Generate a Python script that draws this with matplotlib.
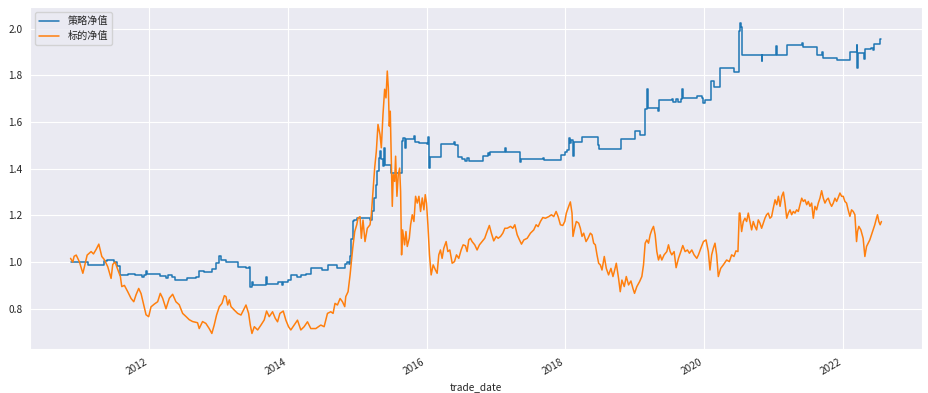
import matplotlib
matplotlib.use("Agg")
import matplotlib.pyplot as plt
import matplotlib.dates as mdates
import seaborn as sns
import pandas as pd

sns.set_style("darkgrid")
plt.rcParams["font.family"] = ["Noto Sans CJK SC", "DejaVu Sans"]

# ---- data (trade_date given as decimal years) ----
strategy_t = [
    2010.868, 2011.127, 2011.357, 2011.400, 2011.500, 2011.540, 2011.587, 2011.700, 2011.800, 2011.900,
    2011.930, 2011.957, 2011.970, 2012.163, 2012.240, 2012.270, 2012.330, 2012.370, 2012.550, 2012.676,
    2012.724, 2012.800, 2012.906, 2012.964, 2013.003, 2013.036, 2013.108, 2013.276, 2013.396, 2013.444,
    2013.458, 2013.482, 2013.501, 2013.683, 2013.698, 2013.851, 2013.914, 2013.933, 2013.996, 2014.043,
    2014.139, 2014.187, 2014.259, 2014.331, 2014.451, 2014.499, 2014.585, 2014.705, 2014.820, 2014.859,
    2014.882, 2014.897, 2014.916, 2014.935, 2014.954, 2015.003, 2015.185, 2015.218, 2015.242, 2015.266,
    2015.290, 2015.314, 2015.329, 2015.348, 2015.377, 2015.386, 2015.401, 2015.492, 2015.640, 2015.665,
    2015.683, 2015.698, 2015.818, 2015.832, 2015.890, 2016.010, 2016.020, 2016.034, 2016.048, 2016.216,
    2016.393, 2016.417, 2016.451, 2016.513, 2016.561, 2016.585, 2016.609, 2016.810, 2016.887, 2016.906,
    2016.921, 2017.127, 2017.146, 2017.343, 2017.353, 2017.674, 2017.688, 2017.942, 2018.000, 2018.024,
    2018.048, 2018.072, 2018.086, 2018.106, 2018.120, 2018.240, 2018.470, 2018.489, 2018.801, 2019.007,
    2019.070, 2019.151, 2019.175, 2019.185, 2019.343, 2019.353, 2019.535, 2019.559, 2019.597, 2019.631,
    2019.665, 2019.679, 2019.703, 2019.905, 2019.967, 2019.991, 2020.014, 2020.101, 2020.149, 2020.230,
    2020.436, 2020.508, 2020.513, 2020.535, 2020.542, 2020.830, 2020.839, 2021.032, 2021.046, 2021.190,
    2021.415, 2021.429, 2021.631, 2021.693, 2021.708, 2021.909, 2022.101, 2022.197, 2022.201, 2022.220,
    2022.307, 2022.317, 2022.412, 2022.436, 2022.451, 2022.542, 2022.556,
]
strategy_nav = [
    1.000, 0.988, 1.005, 1.009, 1.000, 0.985, 0.945, 0.947, 0.945, 0.935,
    0.945, 0.962, 0.950, 0.940, 0.930, 0.945, 0.935, 0.923, 0.932, 0.938,
    0.962, 0.958, 0.971, 0.995, 1.027, 1.009, 1.000, 0.980, 0.975, 0.980,
    0.895, 0.916, 0.900, 0.938, 0.904, 0.913, 0.900, 0.915, 0.923, 0.945,
    0.935, 0.945, 0.950, 0.973, 0.975, 0.965, 0.988, 0.973, 0.990, 1.000,
    0.990, 1.024, 1.100, 1.174, 1.180, 1.191, 1.180, 1.217, 1.274, 1.332,
    1.389, 1.446, 1.475, 1.440, 1.410, 1.490, 1.415, 1.382, 1.518, 1.532,
    1.490, 1.528, 1.540, 1.515, 1.510, 1.507, 1.535, 1.403, 1.450, 1.507,
    1.515, 1.500, 1.450, 1.442, 1.435, 1.445, 1.435, 1.454, 1.468, 1.460,
    1.472, 1.490, 1.472, 1.429, 1.444, 1.447, 1.437, 1.458, 1.470, 1.482,
    1.530, 1.510, 1.525, 1.454, 1.515, 1.537, 1.500, 1.485, 1.526, 1.561,
    1.543, 1.655, 1.741, 1.662, 1.647, 1.693, 1.700, 1.687, 1.700, 1.687,
    1.700, 1.741, 1.705, 1.710, 1.705, 1.683, 1.695, 1.776, 1.751, 1.831,
    1.816, 1.991, 2.027, 2.010, 1.888, 1.862, 1.888, 1.927, 1.888, 1.931,
    1.940, 1.922, 1.887, 1.900, 1.874, 1.867, 1.902, 1.930, 1.834, 1.898,
    1.870, 1.913, 1.920, 1.910, 1.934, 1.955, 1.955,
]

underlying_t = [
    2010.868, 2010.900, 2010.920, 2010.950, 2010.997, 2011.046, 2011.069, 2011.108, 2011.165, 2011.199,
    2011.237, 2011.276, 2011.319, 2011.357, 2011.405, 2011.453, 2011.477, 2011.511, 2011.549, 2011.587,
    2011.607, 2011.645, 2011.693, 2011.741, 2011.780, 2011.813, 2011.851, 2011.885, 2011.923, 2011.957,
    2011.995, 2012.029, 2012.077, 2012.125, 2012.163, 2012.197, 2012.245, 2012.293, 2012.341, 2012.388,
    2012.436, 2012.485, 2012.532, 2012.580, 2012.629, 2012.700, 2012.724, 2012.772, 2012.820, 2012.868,
    2012.906, 2012.940, 2012.974, 2013.012, 2013.050, 2013.084, 2013.108, 2013.132, 2013.156, 2013.180,
    2013.228, 2013.276, 2013.324, 2013.372, 2013.396, 2013.434, 2013.458, 2013.482, 2013.516, 2013.564,
    2013.612, 2013.659, 2013.693, 2013.731, 2013.779, 2013.818, 2013.851, 2013.885, 2013.933, 2013.971,
    2014.010, 2014.043, 2014.091, 2014.139, 2014.187, 2014.235, 2014.283, 2014.331, 2014.403, 2014.475,
    2014.523, 2014.571, 2014.619, 2014.652, 2014.680, 2014.715, 2014.753, 2014.787, 2014.820, 2014.835,
    2014.868, 2014.897, 2014.916, 2014.935, 2014.964, 2014.993, 2015.012, 2015.041, 2015.060, 2015.084,
    2015.113, 2015.146, 2015.185, 2015.204, 2015.228, 2015.252, 2015.276, 2015.300, 2015.329, 2015.348,
    2015.372, 2015.396, 2015.415, 2015.434, 2015.449, 2015.463, 2015.477, 2015.492, 2015.506, 2015.520,
    2015.540, 2015.554, 2015.573, 2015.592, 2015.612, 2015.626, 2015.640, 2015.655, 2015.683, 2015.703,
    2015.722, 2015.751, 2015.770, 2015.794, 2015.818, 2015.842, 2015.866, 2015.890, 2015.914, 2015.938,
    2015.962, 2015.981, 2016.000, 2016.020, 2016.043, 2016.067, 2016.096, 2016.129, 2016.153, 2016.177,
    2016.201, 2016.225, 2016.249, 2016.283, 2016.307, 2016.336, 2016.370, 2016.403, 2016.432, 2016.465,
    2016.499, 2016.528, 2016.561, 2016.585, 2016.609, 2016.633, 2016.657, 2016.695, 2016.729, 2016.763,
    2016.801, 2016.839, 2016.873, 2016.906, 2016.935, 2016.969, 2017.003, 2017.031, 2017.065, 2017.098,
    2017.127, 2017.161, 2017.209, 2017.242, 2017.271, 2017.305, 2017.338, 2017.367, 2017.401, 2017.449,
    2017.496, 2017.544, 2017.578, 2017.607, 2017.640, 2017.674, 2017.712, 2017.760, 2017.799, 2017.832,
    2017.866, 2017.895, 2017.928, 2017.962, 2017.991, 2018.014, 2018.048, 2018.072, 2018.096, 2018.110,
    2018.134, 2018.158, 2018.192, 2018.216, 2018.240, 2018.264, 2018.298, 2018.326, 2018.360, 2018.384,
    2018.408, 2018.432, 2018.456, 2018.480, 2018.504, 2018.528, 2018.561, 2018.590, 2018.623, 2018.657,
    2018.686, 2018.705, 2018.734, 2018.767, 2018.791, 2018.815, 2018.849, 2018.878, 2018.911, 2018.945,
    2018.974, 2018.997, 2019.031, 2019.070, 2019.103, 2019.127, 2019.151, 2019.175, 2019.199, 2019.223,
    2019.247, 2019.271, 2019.295, 2019.319, 2019.343, 2019.367, 2019.391, 2019.424, 2019.463, 2019.487,
    2019.511, 2019.535, 2019.568, 2019.597, 2019.631, 2019.665, 2019.693, 2019.727, 2019.760, 2019.789,
    2019.823, 2019.856, 2019.895, 2019.919, 2019.953, 2019.991, 2020.029, 2020.062, 2020.086, 2020.110,
    2020.134, 2020.158, 2020.182, 2020.206, 2020.240, 2020.278, 2020.326, 2020.365, 2020.398, 2020.432,
    2020.460, 2020.489, 2020.508, 2020.518, 2020.542, 2020.566, 2020.590, 2020.614, 2020.638, 2020.662,
    2020.686, 2020.710, 2020.734, 2020.758, 2020.782, 2020.806, 2020.830, 2020.854, 2020.878, 2020.902,
    2020.926, 2020.950, 2020.974, 2020.998, 2021.022, 2021.046, 2021.070, 2021.094, 2021.118, 2021.142,
    2021.165, 2021.190, 2021.213, 2021.237, 2021.261, 2021.285, 2021.309, 2021.333, 2021.357, 2021.381,
    2021.406, 2021.429, 2021.453, 2021.478, 2021.501, 2021.525, 2021.549, 2021.573, 2021.597, 2021.621,
    2021.645, 2021.669, 2021.693, 2021.717, 2021.741, 2021.765, 2021.789, 2021.813, 2021.837, 2021.861,
    2021.885, 2021.909, 2021.933, 2021.957, 2021.981, 2022.005, 2022.029, 2022.053, 2022.076, 2022.101,
    2022.125, 2022.149, 2022.173, 2022.197, 2022.211, 2022.230, 2022.259, 2022.278, 2022.292, 2022.317,
    2022.341, 2022.365, 2022.388, 2022.412, 2022.436, 2022.460, 2022.484, 2022.499, 2022.518, 2022.537,
    2022.556,
]
underlying_nav = [
    1.016, 1.000, 1.025, 1.030, 1.000, 0.952, 0.980, 1.030, 1.045, 1.035,
    1.054, 1.077, 1.024, 1.010, 0.980, 0.930, 0.990, 1.000, 0.968, 0.938,
    0.895, 0.900, 0.873, 0.844, 0.830, 0.860, 0.887, 0.865, 0.817, 0.774,
    0.766, 0.808, 0.820, 0.830, 0.866, 0.845, 0.800, 0.845, 0.862, 0.830,
    0.817, 0.780, 0.767, 0.753, 0.745, 0.740, 0.715, 0.745, 0.737, 0.715,
    0.694, 0.730, 0.773, 0.809, 0.823, 0.856, 0.852, 0.816, 0.838, 0.809,
    0.794, 0.780, 0.773, 0.802, 0.816, 0.780, 0.730, 0.694, 0.723, 0.709,
    0.730, 0.752, 0.790, 0.766, 0.787, 0.759, 0.744, 0.780, 0.790, 0.751,
    0.723, 0.709, 0.730, 0.751, 0.709, 0.723, 0.744, 0.715, 0.715, 0.730,
    0.723, 0.780, 0.787, 0.780, 0.823, 0.816, 0.844, 0.830, 0.809, 0.852,
    0.873, 0.945, 1.000, 1.059, 1.131, 1.160, 1.188, 1.195, 1.102, 1.180,
    1.088, 1.145, 1.160, 1.203, 1.303, 1.403, 1.475, 1.590, 1.547, 1.490,
    1.633, 1.741, 1.704, 1.819, 1.747, 1.583, 1.647, 1.446, 1.239, 1.375,
    1.346, 1.454, 1.282, 1.375, 1.403, 1.303, 1.031, 1.138, 1.074, 1.131,
    1.067, 1.102, 1.160, 1.203, 1.174, 1.282, 1.253, 1.282, 1.217, 1.275,
    1.224, 1.289, 1.253, 1.160, 1.031, 0.945, 0.988, 0.966, 0.952, 1.031,
    1.052, 1.016, 1.059, 1.088, 1.045, 1.052, 0.995, 1.002, 1.031, 1.016,
    1.052, 1.074, 1.070, 1.045, 1.095, 1.102, 1.088, 1.074, 1.052, 1.074,
    1.088, 1.102, 1.131, 1.157, 1.124, 1.091, 1.110, 1.102, 1.110, 1.124,
    1.145, 1.145, 1.153, 1.145, 1.160, 1.117, 1.095, 1.077, 1.095, 1.102,
    1.124, 1.138, 1.160, 1.152, 1.174, 1.191, 1.188, 1.195, 1.203, 1.195,
    1.217, 1.195, 1.160, 1.157, 1.174, 1.210, 1.239, 1.258, 1.210, 1.110,
    1.145, 1.174, 1.167, 1.145, 1.110, 1.124, 1.088, 1.102, 1.124, 1.117,
    1.081, 1.074, 1.031, 0.995, 0.988, 0.966, 1.024, 0.973, 0.945, 0.973,
    0.938, 0.959, 0.995, 0.930, 0.873, 0.923, 0.895, 0.938, 0.902, 0.919,
    0.887, 0.866, 0.895, 0.916, 0.938, 0.988, 1.081, 1.095, 1.081, 1.117,
    1.138, 1.153, 1.117, 1.045, 1.009, 1.031, 1.009, 1.031, 1.045, 1.074,
    1.045, 1.031, 1.045, 0.976, 1.016, 1.045, 1.071, 1.045, 1.052, 1.038,
    1.052, 1.031, 1.016, 1.031, 1.059, 1.088, 1.095, 1.045, 0.966, 1.031,
    1.059, 1.081, 1.031, 0.938, 0.973, 0.988, 1.009, 1.002, 1.031, 1.024,
    1.048, 1.045, 1.210, 1.210, 1.131, 1.174, 1.188, 1.174, 1.210, 1.174,
    1.138, 1.174, 1.153, 1.138, 1.181, 1.167, 1.145, 1.167, 1.188, 1.203,
    1.210, 1.188, 1.195, 1.231, 1.267, 1.246, 1.282, 1.239, 1.282, 1.300,
    1.253, 1.188, 1.210, 1.224, 1.203, 1.217, 1.210, 1.224, 1.217, 1.246,
    1.274, 1.260, 1.267, 1.246, 1.260, 1.239, 1.253, 1.188, 1.239, 1.224,
    1.253, 1.274, 1.306, 1.274, 1.253, 1.267, 1.274, 1.253, 1.239, 1.253,
    1.274, 1.260, 1.277, 1.296, 1.282, 1.282, 1.260, 1.253, 1.224, 1.196,
    1.224, 1.217, 1.203, 1.088, 1.131, 1.153, 1.138, 1.117, 1.102, 1.024,
    1.067, 1.081, 1.095, 1.117, 1.138, 1.160, 1.188, 1.203, 1.174, 1.160,
    1.174,
]

series_labels = ["策略净值", "标的净值"]
x_label = "trade_date"


def to_dates(years):
    return [pd.Timestamp(int(y), 1, 1) + pd.Timedelta(days=(y - int(y)) * 365.25) for y in years]


W, H = 929, 393
fig = plt.figure(figsize=(W / 100, H / 100), dpi=100)
ax = fig.add_axes([30 / W, 1 - 349 / H, 892 / W, 342 / H])

ax.plot(to_dates(strategy_t), strategy_nav, drawstyle="steps-post",
        color="#1f77b4", lw=1.1, label=series_labels[0])
ax.plot(to_dates(underlying_t), underlying_nav,
        color="#ff7f0e", lw=1.1, label=series_labels[1])

ax.xaxis.set_major_locator(mdates.YearLocator(2))
ax.xaxis.set_major_formatter(mdates.DateFormatter("%Y"))
ax.tick_params(axis="both", labelsize=7.3, length=0, pad=5.5, colors="#262626")
for lab in ax.get_xticklabels():
    lab.set_rotation(30)
    lab.set_ha("right")
ax.grid(True, color="white", lw=0.8)
ax.set_xlabel(x_label, fontsize=7.3, color="#262626", labelpad=4)

leg = ax.legend(loc="upper left", fontsize=7.3, frameon=True)
leg.get_frame().set_edgecolor("#cccccc")

fig.savefig("out.png", dpi=100)
